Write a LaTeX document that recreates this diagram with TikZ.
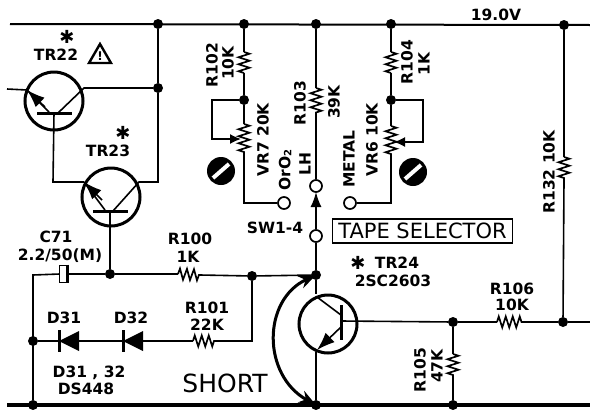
\documentclass[tikz,border=0pt]{standalone}
\usepackage{fontspec}
\setmainfont{DejaVu Sans}
\usetikzlibrary{arrows.meta,decorations.pathmorphing,calc}
\tikzset{
    wire/.style={line width=1.6pt},
    res/.style={line width=1.7pt, decorate, decoration={zigzag, segment length=7pt, amplitude=5.5pt}},
    dot/.style={circle, fill=black, inner sep=0pt, minimum size=10pt},
    contact/.style={circle, draw, fill=white, line width=1.7pt, inner sep=0pt, minimum size=12pt},
    trans/.style={circle, draw, line width=3pt, inner sep=0pt, minimum size=58pt},
    trbar/.style={line width=3pt},
    emit/.style={line width=1.6pt, -{Latex[length=18pt,width=13pt]}},
    bolt/.style={circle, fill=black, inner sep=0pt, minimum size=28pt},
    slash/.style={white, line width=4pt},
    lbl/.style={font=\fontsize{15.5}{15.5}\selectfont\bfseries, inner sep=0pt},
    vlbl/.style={lbl, rotate=90},
    starlbl/.style={font=\fontsize{18}{18}\selectfont\bfseries, inner sep=0pt}
}

\begin{document}
\begin{tikzpicture}[x=1pt,y=-1pt]
    \useasboundingbox (0,0) rectangle (590,410);

    % rails
    \coordinate (topl) at (10,24);
    \coordinate (topr) at (590,25);
    \coordinate (botl) at (7,405);
    \coordinate (botr) at (590,405);
    \draw[line width=2pt] (topl) -- (topr);
    \draw[line width=3.4pt] (botl) -- (botr);

    \node[dot] (t1) at (158,24) {};
    \node[dot] (t2) at (244,24) {};
    \node[dot] (t3) at (316,24) {};
    \node[dot] (t4) at (391,24) {};
    \node[dot] (t5) at (564,25) {};
    \node[dot] (b1) at (33,405) {};
    \node[dot] (b2) at (316,405) {};
    \node[dot] (b3) at (453,405) {};

    % TR22, TR23
    \node[trans] (tr22) at (54,101) {};
    \node[trans] (tr23) at (111,197) {};
    \node[dot] (n22) at (158,88) {};
    \coordinate (in22) at (7,89);
    \coordinate (e22) at (27,90);
    \coordinate (c22) at (84,88);
    \coordinate (b22) at (54,113);
    \coordinate (e23) at (84,182);
    \coordinate (c23) at (139,182);
    \coordinate (b23) at (110,211);
    \coordinate (k23) at (158,182);
    \coordinate (k22) at (53,182);
    \node[dot] (n23) at (110,274) {};
    \draw[wire] (t1) -- (n22) -- (k23) -- (c23) -- (113,211);
    \draw[wire] (in22) -- (e22);
    \draw[wire] (n22) -- (c22) -- (58,113);
    \draw[wire] (b22) -- (k22) -- (e23);
    \draw[wire] (b23) -- (n23);
    \draw[trbar] (37,113) -- (72,113);
    \draw[trbar] (93,211) -- (128,211);
    \draw[wire] (e22) -- (49,112);
    \draw[wire] (e23) -- (105,210);
    \draw[emit] (45,107) -- (e22);
    \draw[emit] (102,200) -- (e23);

    \node[starlbl] (star22) at (67,37) {✱};
    \node[lbl] (lb22) at (56,55) {TR22};
    \coordinate (warn) at (100,44);
    \draw[line width=2.4pt] (warn) -- (89,63) -- (111,63) -- cycle;
    \node[font=\fontsize{12}{12}\selectfont\bfseries, inner sep=0pt] (warnm) at (100,56) {!};
    \node[starlbl] (star23) at (123,133) {✱};
    \node[lbl] (lb23) at (108,151) {TR23};

    % C71, R100
    \node[dot] (n24) at (252,276) {};
    \node[dot] (n25) at (316,275) {};
    \node[dot] (n31) at (33,341) {};
    \coordinate (k71) at (33,275);
    \coordinate (r100a) at (178,274);
    \coordinate (r100b) at (200,275);
    \draw[wire] (b1) -- (k71) -- (60,274);
    \draw[wire] (68,274) -- (n23) -- (r100a);
    \draw[res] (r100a) -- (r100b);
    \draw[wire] (r100b) -- (n24) -- (n25);
    \node[draw, wire, fill=white, inner sep=0pt, minimum width=7pt, minimum height=17pt] (c71) at (63,274) {};
    \draw[line width=3pt] (c71.north east) -- (c71.south east);
    \node[lbl] (lc71) at (56,237) {C71};
    \node[lbl] (vc71) at (60,256) {2.2/50(M)};
    \node[lbl] (lr100) at (190,239) {R100};
    \node[lbl] (vr100) at (188,257) {1K};

    % D31, D32, R101
    \coordinate (r101a) at (193,341);
    \coordinate (r101b) at (215,341);
    \coordinate (k101) at (252,341);
    \draw[wire] (n31) -- (r101a);
    \draw[res] (r101a) -- (r101b);
    \draw[wire] (r101b) -- (k101) -- (n24);
    \coordinate (d31) at (59,341);
    \coordinate (d32) at (123,341);
    \fill (d31) -- ($(d31)+(20,-10)$) -- ($(d31)+(20,10)$) -- cycle;
    \fill (d32) -- ($(d32)+(20,-10)$) -- ($(d32)+(20,10)$) -- cycle;
    \draw[trbar] ($(d31)+(0,-11)$) -- ($(d31)+(0,11)$);
    \draw[trbar] ($(d32)+(0,-11)$) -- ($(d32)+(0,11)$);
    \node[lbl] (ld31) at (64,318) {D31};
    \node[lbl] (ld32) at (131,318) {D32};
    \node[lbl] (lr101) at (207,308) {R101};
    \node[lbl] (vr101) at (207,325) {22K};
    \node[lbl] (ld3) at (89,373) {D31 , 32};
    \node[lbl] (vd3) at (86,389) {DS448};
    \node[inner sep=0pt, font=\fontsize{25}{25}\selectfont] (short) at (225,383) {SHORT};

    % VR7 branch
    \coordinate (r102a) at (244,52);
    \coordinate (r102b) at (244,73);
    \node[dot] (n7) at (244,100) {};
    \coordinate (vr7a) at (244,124);
    \coordinate (vr7b) at (244,155);
    \coordinate (k7) at (244,203);
    \node[contact] (o7) at (284,203) {};
    \coordinate (w7a) at (212,100);
    \coordinate (w7b) at (212,139);
    \draw[wire] (t2) -- (r102a);
    \draw[res] (r102a) -- (r102b);
    \draw[wire] (r102b) -- (n7) -- (vr7a);
    \draw[res] (vr7a) -- (vr7b);
    \draw[wire] (vr7b) -- (k7) -- (o7);
    \draw[wire, -{Latex[length=11pt,width=10pt]}] (n7) -- (w7a) -- (w7b) -- (241,139);
    \node[bolt] (bolt7) at (221,171) {};
    \draw[slash] ($(bolt7)+(-8,7)$) -- ($(bolt7)+(8,-7)$);
    \node[vlbl] (lr102) at (212,65) {R102};
    \node[vlbl] (vr102) at (228,63) {10K};
    \node[vlbl] (lvr7) at (263,140) {VR7 20K};
    \node[vlbl] (tor) at (285,170) {OrO\raisebox{-1pt}{\fontsize{10}{10}\selectfont 2}};

    % switch
    \coordinate (r103a) at (316,88);
    \coordinate (r103b) at (316,113);
    \node[contact] (o3) at (316,186) {};
    \node[contact] (osw) at (316,236) {};
    \draw[wire] (t3) -- (r103a);
    \draw[res] (r103a) -- (r103b);
    \draw[wire] (r103b) -- (o3);
    \draw[wire, -{Latex[length=15pt,width=11pt]}] (osw) -- (316,192);
    \draw[wire] (osw) -- (n25);
    \node[vlbl] (lr103) at (300,103) {R103};
    \node[vlbl] (vr103) at (334,102) {39K};
    \node[vlbl] (llh) at (305,164) {LH};
    \node[lbl] (lsw) at (275,228) {SW1-4};

    % VR6 branch
    \coordinate (r104a) at (391,52);
    \coordinate (r104b) at (391,73);
    \node[dot] (n6) at (391,100) {};
    \coordinate (vr6a) at (391,126);
    \coordinate (vr6b) at (391,157);
    \coordinate (k6) at (391,203);
    \node[contact] (o6) at (350,203) {};
    \coordinate (w6a) at (423,100);
    \coordinate (w6b) at (423,142);
    \draw[wire] (t4) -- (r104a);
    \draw[res] (r104a) -- (r104b);
    \draw[wire] (r104b) -- (n6) -- (vr6a);
    \draw[res] (vr6a) -- (vr6b);
    \draw[wire] (vr6b) -- (k6) -- (o6);
    \draw[wire, -{Latex[length=11pt,width=10pt]}] (n6) -- (w6a) -- (w6b) -- (394,142);
    \node[bolt] (bolt6) at (413,172) {};
    \draw[slash] ($(bolt6)+(-8,7)$) -- ($(bolt6)+(8,-7)$);
    \node[vlbl] (lr104) at (407,62) {R104};
    \node[vlbl] (vr104) at (424,64) {1K};
    \node[vlbl] (lvr6) at (372,140) {VR6 10K};
    \node[vlbl] (lmetal) at (349,159) {METAL};

    \node[lbl] (volt) at (496,15) {19.0V};
    \node[draw, line width=1.8pt, inner sep=0pt, minimum width=180pt, minimum height=24pt, font=\fontsize{21}{21}\selectfont] (tape) at (422.5,231) {TAPE SELECTOR};

    % TR24
    \node[trans] (tr24) at (328,324) {};
    \coordinate (c24) at (317,297);
    \coordinate (cb24) at (341,315);
    \coordinate (e24) at (317,350);
    \coordinate (eb24) at (341,327);
    \coordinate (b24) at (341,321);
    \coordinate (k24) at (316,294);
    \coordinate (q24) at (316,352);
    \node[dot] (n5) at (453,322) {};
    \node[dot] (n6r) at (563,322) {};
    \coordinate (r106a) at (497,322);
    \coordinate (r106b) at (522,322);
    \coordinate (rgt) at (590,322);
    \draw[wire] (n25) -- (k24);
    \draw[wire] (q24) -- (b2);
    \draw[wire] (c24) -- (cb24);
    \draw[wire] (b24) -- (n5) -- (r106a);
    \draw[res] (r106a) -- (r106b);
    \draw[wire] (r106b) -- (n6r) -- (rgt);
    \draw[trbar] (341,305) -- (341,340);
    \draw[emit] (eb24) -- (e24);
    \node[starlbl] (star24) at (358,263) {✱};
    \node[lbl] (lb24) at (397,263) {TR24};
    \node[lbl] (vb24) at (393,281) {2SC2603};
    \node[lbl] (lr106) at (512,289) {R106};
    \node[lbl] (vr106) at (512,305) {10K};
    \draw[line width=3pt, {Stealth[length=17pt,width=13pt]}-{Stealth[length=17pt,width=13pt]}] (n25.center) .. controls (262,300) and (262,375) .. (b2.center);

    % R105, R132
    \coordinate (r105a) at (453,354);
    \coordinate (r105b) at (453,376);
    \coordinate (r132a) at (564,157);
    \coordinate (r132b) at (564,181);
    \draw[wire] (n5) -- (r105a);
    \draw[res] (r105a) -- (r105b);
    \draw[wire] (r105b) -- (b3);
    \draw[wire] (t5) -- (r132a);
    \draw[res] (r132a) -- (r132b);
    \draw[wire] (r132b) -- (n6r);
    \node[vlbl] (lr105) at (420,370) {R105};
    \node[vlbl] (vr105) at (437,366) {47K};
    \node[vlbl] (lr132) at (549,172) {R132 10K};
\end{tikzpicture}
\end{document}
